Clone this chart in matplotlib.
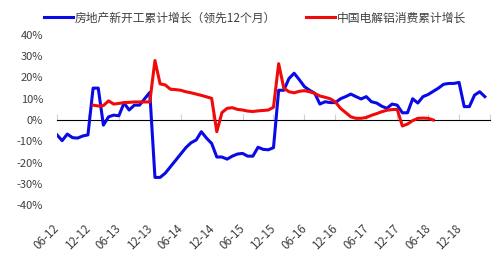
import matplotlib
matplotlib.use("Agg")
import matplotlib.pyplot as plt
import matplotlib.transforms as mtransforms
from matplotlib.ticker import FuncFormatter

plt.rcParams['font.family'] = ['Noto Sans CJK SC', 'DejaVu Sans']

# month index 0 = 2012-06
blue_start = 0
blue_values = [-7, -9.7, -6.6, -8.3, -8.5, -7.5, -7, 15, 15, -2.4,
               1.5, 2.3, 2, 8, 4.7, 7, 7, 10, 13, -27,
               -27, -25, -22, -19, -16, -13, -10.7, -9.4, -5.5, -8.5,
               -11, -17.4, -17.4, -18.4, -17, -16, -15.7, -17, -17, -12.8,
               -13.8, -14, -13, 14, 14, 19.5, 22, 19, 15.7, 14,
               12.6, 7.5, 8.6, 8.2, 8.2, 10, 11, 12.2, 11, 9.9,
               11, 8.6, 8, 6.5, 5.5, 7.5, 7, 3.4, 3.4, 10,
               8, 11, 12, 13.5, 15, 16.8, 17.2, 17.2, 17.7, 6.3,
               6.3, 11.7, 13.3, 11]

red_start = 7
red_values = [7, 6.6, 6.8, 9, 7.5, 7.8, 8.2, 8.3, 8.5, 8.5,
              8.5, 8.5, 28, 17, 16.5, 14.5, 14.3, 14, 13.3, 12.8,
              12.2, 11.6, 10.9, 10.2, -5.5, 3.5, 5.5, 5.8, 5, 4.7,
              4.2, 4, 4.3, 4.5, 4.7, 6, 26.5, 15, 13.3, 12.8,
              13.5, 13.8, 13.3, 12.5, 11.3, 10.7, 10, 8.5, 5.5, 3.5,
              1.5, 0.8, 0.8, 1.2, 2.2, 3, 3.9, 4.6, 4.9, 5,
              -2.8, -1.9, -0.3, 0.8, 0.9, 0.8, 0]

tick_labels = ['06-12', '12-12', '06-13', '12-13', '06-14', '12-14', '06-15',
               '12-15', '06-16', '12-16', '06-17', '12-17', '06-18', '12-18']

blue_name = '房地产新开工累计增长（领先12个月）'
red_name = '中国电解铝消费累计增长'

fig = plt.figure(figsize=(5.01, 2.67), dpi=100)
ax = fig.add_axes([0.1138, 0.232, 0.978 - 0.1138, 0.869 - 0.232])

bx = list(range(blue_start, blue_start + len(blue_values)))
rx = list(range(red_start, red_start + len(red_values)))
lb, = ax.plot(bx, blue_values, color='#0A0AE6', lw=2.2, solid_joinstyle='round')
lr, = ax.plot(rx, red_values, color='#F00A0A', lw=2.2, solid_joinstyle='round')

ax.set_xlim(0, 84)
ax.set_ylim(-40, 40)
ax.set_yticks(range(-40, 41, 10))
ax.yaxis.set_major_formatter(FuncFormatter(lambda v, p: f'{int(v)}%'))
ax.tick_params(axis='y', length=0, pad=10, labelsize=8, colors='#404040')

ax.set_xticks([6 * i for i in range(len(tick_labels))])
ax.set_xticklabels(tick_labels, rotation=45, ha='right', va='top')
ax.tick_params(axis='x', length=0, pad=12, labelsize=8.3, colors='#404040')
shift = mtransforms.ScaledTranslation(5 / 100, 0, fig.dpi_scale_trans)
for lab in ax.get_xticklabels():
    lab.set_transform(lab.get_transform() + shift)
for s in ax.spines.values():
    s.set_visible(False)

sec = ax.secondary_xaxis(0.5)
sec.set_xticks([6 * i for i in range(len(tick_labels) + 1)])
sec.set_xticklabels([])
sec.tick_params(axis='x', length=4, width=0.8, color='#D0D0D0', direction='out')
sec.spines['bottom'].set_color('#D0D0D0')
sec.spines['bottom'].set_linewidth(0.8)

fig.legend([lb, lr], [blue_name, red_name], loc='center',
           bbox_to_anchor=(0.509, 0.933), ncol=2, frameon=False,
           fontsize=8.5, handlelength=2.5, handletextpad=0.15,
           columnspacing=2.5, borderpad=0, labelcolor='#404040')

fig.savefig('out.png', dpi=100)
